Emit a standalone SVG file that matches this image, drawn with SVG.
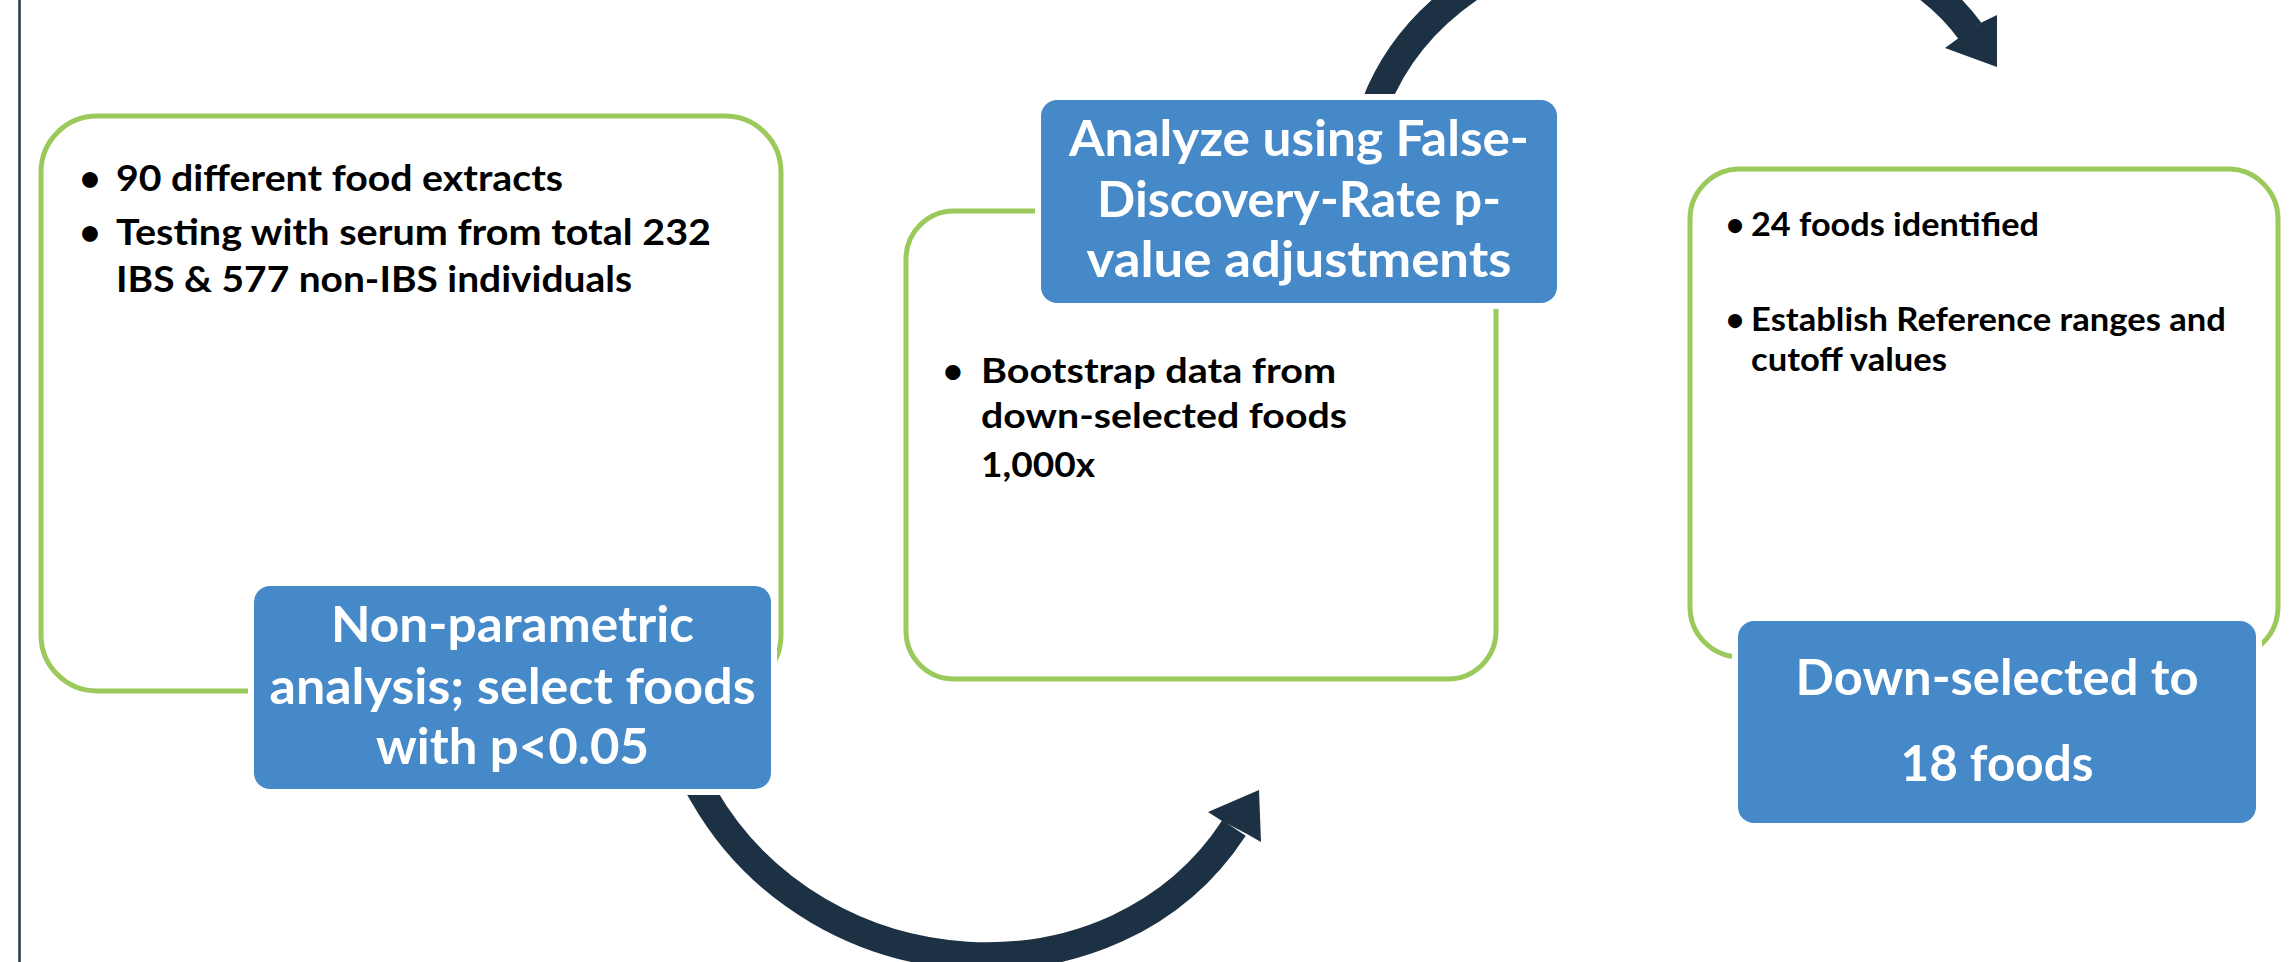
<svg xmlns="http://www.w3.org/2000/svg" width="2291" height="962" viewBox="0 0 2291 962">
  <style>
    .panel { fill: #ffffff; stroke: #9CC95B; stroke-width: 5; }
    .label { fill: #4589C9; stroke: #ffffff; stroke-width: 12; paint-order: stroke; }
    .body { font-family: Lato, 'Liberation Sans', sans-serif; font-weight: bold; fill: #000000; }
    .title { font-family: Lato, 'Liberation Sans', sans-serif; font-weight: bold; fill: #ffffff; font-size: 49px; text-anchor: middle; }
    .shaft { fill: none; stroke: #1C3144; stroke-width: 28; stroke-linecap: butt; }
    .head { fill: #1C3144; }
  </style>
  <rect x="0" y="0" width="2291" height="962" fill="#ffffff"/>
  <line x1="19.5" y1="0" x2="19.5" y2="962" stroke="#1B3B4E" stroke-width="2.5"/>

  <g id="panel1">
    <rect class="panel" x="41" y="116" width="740" height="575" rx="56" ry="56"/>
    <text class="body" x="90" y="191" font-size="36" text-anchor="middle">•</text>
    <text class="body" x="116" y="191" font-size="36" textLength="447" lengthAdjust="spacingAndGlyphs">90 different food extracts</text>
    <text class="body" x="90" y="245" font-size="36" text-anchor="middle">•</text>
    <text class="body" x="116" y="245" font-size="36" textLength="595" lengthAdjust="spacingAndGlyphs">Testing with serum from total 232</text>
    <text class="body" x="116" y="292" font-size="36" textLength="516" lengthAdjust="spacingAndGlyphs">IBS &amp; 577 non-IBS individuals</text>
  </g>

  <g id="panel2">
    <rect class="panel" x="906" y="211" width="590" height="468" rx="48" ry="48"/>
    <text class="body" x="953" y="383" font-size="35" text-anchor="middle">•</text>
    <text class="body" x="981" y="383" font-size="35" textLength="355" lengthAdjust="spacingAndGlyphs">Bootstrap data from</text>
    <text class="body" x="981" y="428" font-size="35" textLength="366" lengthAdjust="spacingAndGlyphs">down-selected foods</text>
    <text class="body" x="981" y="477" font-size="35" textLength="114" lengthAdjust="spacingAndGlyphs">1,000x</text>
  </g>

  <g id="panel3">
    <rect class="panel" x="1690" y="169" width="588" height="488" rx="50" ry="50"/>
    <text class="body" x="1735" y="236" font-size="32" text-anchor="middle">•</text>
    <text class="body" x="1751" y="236" font-size="32" textLength="288" lengthAdjust="spacingAndGlyphs">24 foods identified</text>
    <text class="body" x="1735" y="331" font-size="32" text-anchor="middle">•</text>
    <text class="body" x="1751" y="331" font-size="32" textLength="475" lengthAdjust="spacingAndGlyphs">Establish Reference ranges and</text>
    <text class="body" x="1751" y="371" font-size="32" textLength="196" lengthAdjust="spacingAndGlyphs">cutoff values</text>
  </g>

  <g id="connectors">
    <path class="shaft" d="M 697 784 L 704 796 C 819 995 1114 1012 1234 828"/>
    <polygon class="head" points="1208,812 1259,790 1261,842 1247,834 1222,821"/>
    <path class="shaft" d="M 1375 105 C 1461 -118 1852 -131 1970 31"/>
    <polygon class="head" points="1945,48 1958,38.5 1981.5,22.5 1997,15 1997,67"/>
  </g>

  <g id="label1">
    <rect class="label" x="254" y="586" width="517" height="203" rx="16" ry="16"/>
    <text class="title" x="512.5" y="642" textLength="363" lengthAdjust="spacingAndGlyphs">Non-parametric</text>
    <text class="title" x="512.5" y="704" textLength="486" lengthAdjust="spacingAndGlyphs">analysis; select foods</text>
    <text class="title" x="512.5" y="764" textLength="273" lengthAdjust="spacingAndGlyphs">with p&lt;0.05</text>
  </g>

  <g id="label2">
    <rect class="label" x="1041" y="100" width="516" height="203" rx="16" ry="16"/>
    <text class="title" x="1299" y="156" textLength="460" lengthAdjust="spacingAndGlyphs">Analyze using False-</text>
    <text class="title" x="1299" y="217" textLength="404" lengthAdjust="spacingAndGlyphs">Discovery-Rate p-</text>
    <text class="title" x="1299" y="277" textLength="425" lengthAdjust="spacingAndGlyphs">value adjustments</text>
  </g>

  <g id="label3">
    <rect class="label" x="1738" y="621" width="518" height="202" rx="16" ry="16"/>
    <text class="title" x="1997" y="695" textLength="403" lengthAdjust="spacingAndGlyphs">Down-selected to</text>
    <text class="title" x="1997" y="781" textLength="193" lengthAdjust="spacingAndGlyphs">18 foods</text>
  </g>
</svg>
